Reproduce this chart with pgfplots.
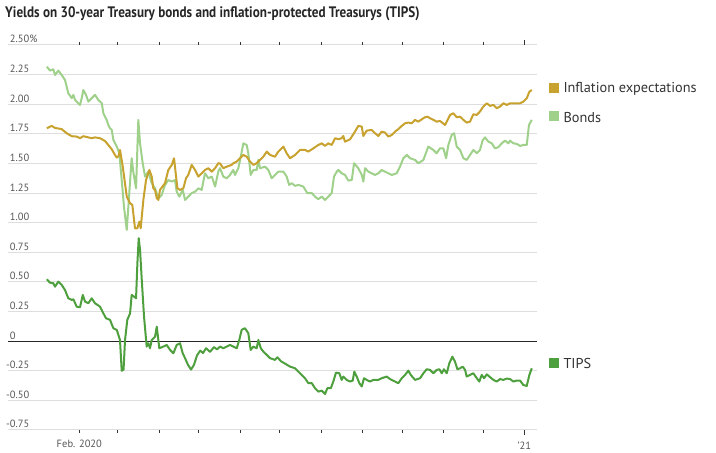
\documentclass[border=0pt]{standalone}
\usepackage{fontspec}
\setmainfont{PT Sans}
\newfontfamily\titlefont[FakeStretch=0.865]{PT Sans}
\usepackage{pgfplots}
\pgfplotsset{compat=1.18}
\usepackage{pgfplotstable}
\definecolor{goldc}{HTML}{C8A22E}
\definecolor{bondc}{HTML}{9FD18B}
\definecolor{tipsc}{HTML}{4E9F3D}
\definecolor{gridc}{HTML}{DEDEDE}
\definecolor{tickc}{HTML}{555555}
\definecolor{textc}{HTML}{333333}

% day = days since 1 Jan 2020
\pgfplotstableread{
day val
6.5 1.797
10.2 1.817
12.7 1.800
17.7 1.790
21.5 1.755
25.3 1.730
29.0 1.727
31.5 1.713
34.0 1.730
37.8 1.720
40.3 1.713
42.8 1.720
46.6 1.713
50.3 1.690
52.8 1.656
55.4 1.620
57.9 1.570
59.2 1.550
60.4 1.560
61.6 1.614
63.7 1.473
66.7 1.220
69.2 1.164
70.9 1.150
72.9 0.953
74.7 0.953
76.2 1.009
77.2 0.953
79.2 1.192
81.2 1.360
83.7 1.445
85.5 1.389
86.7 1.290
88.0 1.277
89.3 1.206
90.5 1.192
91.7 1.277
95.5 1.333
98.0 1.445
100.6 1.488
102.3 1.544
103.0 1.473
104.8 1.290
106.8 1.277
109.3 1.290
111.3 1.375
113.0 1.403
115.6 1.488
118.1 1.445
120.6 1.389
123.1 1.417
125.6 1.445
128.1 1.460
130.7 1.431
133.2 1.460
135.6 1.502
136.9 1.500
139.4 1.460
142.0 1.473
145.7 1.488
146.9 1.502
149.5 1.516
152.0 1.544
154.5 1.572
157.0 1.557
159.5 1.516
162.0 1.488
164.5 1.502
167.0 1.530
169.5 1.557
172.1 1.600
174.6 1.572
178.3 1.557
180.8 1.600
184.6 1.642
187.1 1.586
189.6 1.544
193.4 1.572
197.1 1.614
200.9 1.614
203.4 1.600
207.2 1.628
210.9 1.656
213.5 1.670
216.0 1.648
218.4 1.670
221.0 1.656
223.5 1.713
226.0 1.704
228.5 1.713
229.7 1.732
231.0 1.684
234.8 1.704
238.5 1.769
241.0 1.817
243.6 1.811
244.8 1.732
247.3 1.777
251.1 1.783
253.6 1.755
256.1 1.732
258.6 1.769
261.1 1.761
263.6 1.727
266.2 1.741
268.7 1.769
271.1 1.789
273.7 1.817
276.2 1.839
278.7 1.845
281.2 1.839
283.7 1.868
286.2 1.853
288.8 1.873
291.2 1.890
293.0 1.895
295.0 1.882
297.5 1.868
300.0 1.853
302.5 1.859
306.3 1.825
307.6 1.853
310.1 1.910
312.5 1.924
315.1 1.890
317.6 1.895
320.1 1.868
322.6 1.845
325.1 1.853
327.6 1.915
330.2 1.910
332.6 1.938
335.1 1.980
337.7 2.008
340.2 1.986
342.7 1.994
345.2 1.966
347.7 1.980
350.2 2.008
352.7 1.994
355.2 2.008
357.7 2.008
360.3 2.008
362.8 2.008
365.2 2.022
367.8 2.050
369.8 2.106
371.6 2.120
}\inflation

\pgfplotstableread{
day val
6.5 2.317
8.9 2.284
11.4 2.295
12.7 2.247
15.2 2.284
17.7 2.247
20.2 2.205
22.7 2.093
25.3 2.051
26.5 2.079
27.8 2.036
30.2 2.008
31.5 1.994
32.8 2.051
34.0 2.120
36.0 2.079
37.8 2.022
40.3 2.051
42.8 2.079
45.3 2.036
47.9 2.008
49.1 1.924
50.3 1.895
51.6 1.868
52.8 1.825
54.1 1.797
55.4 1.783
56.6 1.700
59.2 1.642
61.1 1.586
62.9 1.360
64.6 1.135
66.7 0.939
67.9 1.135
70.4 1.544
71.6 1.431
73.7 1.290
75.4 1.868
76.7 1.670
78.7 1.502
80.5 1.389
82.9 1.431
85.5 1.333
88.0 1.290
90.5 1.206
93.0 1.234
95.5 1.319
98.0 1.360
100.6 1.347
103.0 1.360
104.3 1.262
106.3 1.220
108.8 1.277
110.6 1.192
113.0 1.220
115.6 1.250
118.1 1.262
120.6 1.290
123.1 1.277
125.6 1.417
128.1 1.375
130.7 1.389
133.2 1.305
135.6 1.431
136.9 1.460
139.4 1.389
142.0 1.375
144.4 1.403
146.9 1.445
148.2 1.403
150.7 1.460
152.5 1.557
154.5 1.670
157.0 1.656
158.2 1.586
160.0 1.403
162.0 1.445
164.5 1.445
165.8 1.530
167.0 1.460
170.8 1.473
173.3 1.445
175.8 1.375
178.3 1.403
180.8 1.431
184.6 1.431
187.1 1.389
188.9 1.319
190.9 1.333
193.4 1.311
195.9 1.319
199.6 1.305
202.6 1.250
206.0 1.250
208.4 1.220
210.9 1.199
213.5 1.220
216.0 1.192
218.4 1.220
221.0 1.250
222.7 1.389
224.8 1.431
226.0 1.445
228.5 1.417
231.0 1.403
233.5 1.356
236.1 1.360
237.8 1.502
241.0 1.460
243.6 1.403
244.8 1.347
246.1 1.460
248.6 1.431
251.1 1.417
253.6 1.403
256.1 1.417
258.6 1.445
261.1 1.431
263.6 1.417
266.2 1.403
269.9 1.417
272.4 1.473
274.9 1.544
277.5 1.572
280.0 1.544
283.7 1.530
286.2 1.502
290.0 1.530
293.7 1.642
297.5 1.614
300.0 1.586
302.5 1.628
305.0 1.628
307.1 1.544
308.8 1.656
311.3 1.741
313.1 1.755
315.1 1.642
317.6 1.614
320.1 1.544
322.6 1.530
325.1 1.572
327.6 1.614
330.2 1.586
332.6 1.614
334.7 1.698
336.4 1.720
338.9 1.684
341.5 1.670
343.9 1.628
346.4 1.637
349.0 1.670
351.5 1.693
354.0 1.670
355.2 1.693
357.7 1.670
360.3 1.665
362.8 1.648
365.2 1.656
367.8 1.656
369.5 1.825
371.6 1.868
}\bonds

\pgfplotstableread{
day val
6.5 0.522
8.9 0.494
11.4 0.489
12.7 0.460
15.2 0.503
17.7 0.475
20.2 0.432
22.7 0.362
25.3 0.348
26.5 0.354
29.0 0.291
31.5 0.286
33.6 0.390
35.3 0.334
37.8 0.320
40.3 0.362
42.8 0.320
46.6 0.291
49.1 0.235
51.1 0.193
54.1 0.180
56.6 0.109
59.2 0.095
61.6 0.010
62.9 -0.250
64.3 -0.240
65.4 0.010
67.1 0.179
69.2 0.235
70.4 0.390
72.2 0.376
73.7 0.362
74.7 0.658
75.7 0.869
76.7 0.771
78.0 0.517
79.7 0.207
81.7 -0.046
82.9 -0.018
84.2 -0.060
85.5 0.010
88.0 0.038
89.3 0.122
91.2 -0.060
94.2 -0.046
96.8 -0.032
99.3 -0.074
101.8 -0.102
104.3 -0.032
106.8 -0.018
108.8 -0.102
110.6 -0.144
112.8 -0.200
115.1 -0.240
117.3 -0.200
119.6 -0.120
122.0 -0.080
124.1 -0.100
126.4 -0.060
129.4 -0.090
132.4 -0.050
134.7 -0.070
136.9 -0.046
139.4 -0.060
142.0 -0.046
144.4 -0.032
146.9 -0.046
149.5 -0.060
151.4 0.010
153.2 0.095
155.7 0.109
158.2 0.067
160.0 -0.074
162.0 -0.046
164.5 -0.060
165.8 0.010
167.6 -0.060
169.5 -0.088
172.1 -0.116
174.6 -0.144
178.3 -0.158
180.1 -0.136
182.8 -0.170
185.9 -0.190
189.6 -0.215
193.4 -0.229
197.1 -0.271
200.9 -0.313
203.4 -0.355
206.0 -0.355
208.4 -0.397
210.9 -0.426
213.5 -0.418
216.0 -0.446
217.7 -0.397
220.3 -0.397
222.2 -0.341
224.2 -0.266
226.7 -0.271
228.5 -0.327
229.7 -0.299
232.3 -0.327
234.8 -0.341
236.8 -0.333
238.0 -0.257
239.8 -0.299
241.8 -0.355
243.6 -0.383
245.3 -0.313
247.3 -0.327
249.8 -0.341
252.3 -0.327
256.1 -0.327
258.6 -0.313
262.4 -0.299
264.9 -0.320
268.7 -0.341
271.1 -0.355
273.7 -0.313
276.2 -0.285
278.7 -0.249
280.5 -0.285
283.7 -0.327
287.5 -0.313
290.0 -0.271
292.5 -0.237
295.0 -0.243
297.5 -0.271
300.0 -0.243
302.0 -0.237
303.8 -0.271
305.5 -0.237
307.6 -0.271
309.5 -0.187
311.8 -0.131
313.8 -0.173
315.6 -0.237
317.6 -0.229
319.6 -0.215
321.4 -0.243
322.6 -0.299
325.1 -0.285
327.6 -0.271
330.2 -0.313
332.1 -0.341
333.9 -0.285
335.7 -0.313
337.7 -0.280
340.2 -0.304
342.7 -0.327
345.2 -0.341
347.7 -0.320
350.2 -0.327
352.7 -0.316
355.2 -0.320
357.7 -0.341
360.3 -0.333
362.8 -0.333
365.2 -0.370
367.8 -0.378
369.8 -0.285
371.6 -0.229
}\tips

\begin{document}
\begin{tikzpicture}
\begin{axis}[
  at={(0pt,0pt)}, anchor=south west,
  scale only axis, width=528.7pt, height=385pt,
  xmin=-22.7, xmax=375.3, ymin=-0.75, ymax=2.5,
  clip=false,
  axis line style={draw=none},
  ytick={-0.75,-0.5,-0.25,0,0.25,0.5,0.75,1,1.25,1.5,1.75,2,2.25,2.5},
  yticklabels={\llap{-}0.75,\llap{-}0.50,\llap{-}0.25,0,0.25,0.50,0.75,1.00,1.25,1.50,1.75,2.00,2.25,2.50\%},
  yticklabel style={anchor=south west, inner sep=0pt, xshift=4.7pt, yshift=1.7pt,
    font=\fontsize{10.5}{12}\selectfont, text=tickc},
  ymajorgrids, major grid style={gridc, line width=1pt},
  ytick style={draw=none},
  extra y ticks={0}, extra y tick labels={},
  extra y tick style={ymajorgrids, major grid style={black!85, line width=1.3pt}, ytick style={draw=none}},
  xtick={31,60,91,121,152,182,213,244,274,305,335},
  xticklabels={Feb. 2020,,,,,,,,,,},
  extra x ticks={366}, extra x tick labels={’21},
  extra x tick style={major tick length=5pt, xtick style={draw=black!80, line width=0.9pt}},
  tick align=outside, major tick length=3pt,
  xtick style={draw=black!80, line width=0.9pt},
  xticklabel style={anchor=north, inner sep=0pt, yshift=-7pt,
    font=\fontsize{10.5}{12}\selectfont, text=tickc},
  every axis plot/.append style={line width=2pt, line join=round, no markers},
]
\addplot[bondc] table[x=day, y=val] {\bonds};
\addplot[goldc] table[x=day, y=val] {\inflation};
\addplot[tipsc] table[x=day, y=val] {\tips};
\end{axis}
% title
\node[anchor=base west, inner sep=0pt, text=black!85] at (-3pt,412.7pt)
  {\titlefont\bfseries\fontsize{15.2}{17}\selectfont Yields on 30-year Treasury bonds and inflation-protected Treasurys (TIPS)};
% legend
\fill[goldc] (541pt,337.3pt) rectangle (551pt,347.3pt);
\node[anchor=base west, inner sep=0pt, text=textc, font=\fontsize{14.3}{16}\selectfont] at (555.3pt,337pt) {Inflation expectations};
\fill[bondc] (541pt,309.2pt) rectangle (551pt,319.2pt);
\node[anchor=base west, inner sep=0pt, text=textc, font=\fontsize{14.3}{16}\selectfont] at (555.3pt,307.7pt) {Bonds};
\fill[tipsc] (541pt,61.7pt) rectangle (551pt,71.7pt);
\node[anchor=base west, inner sep=0pt, text=textc, font=\fontsize{14.3}{16}\selectfont] at (555.3pt,61.7pt) {TIPS};
\path[use as bounding box] (-8pt,-23pt) rectangle (708pt,430pt);
\end{tikzpicture}
\end{document}
